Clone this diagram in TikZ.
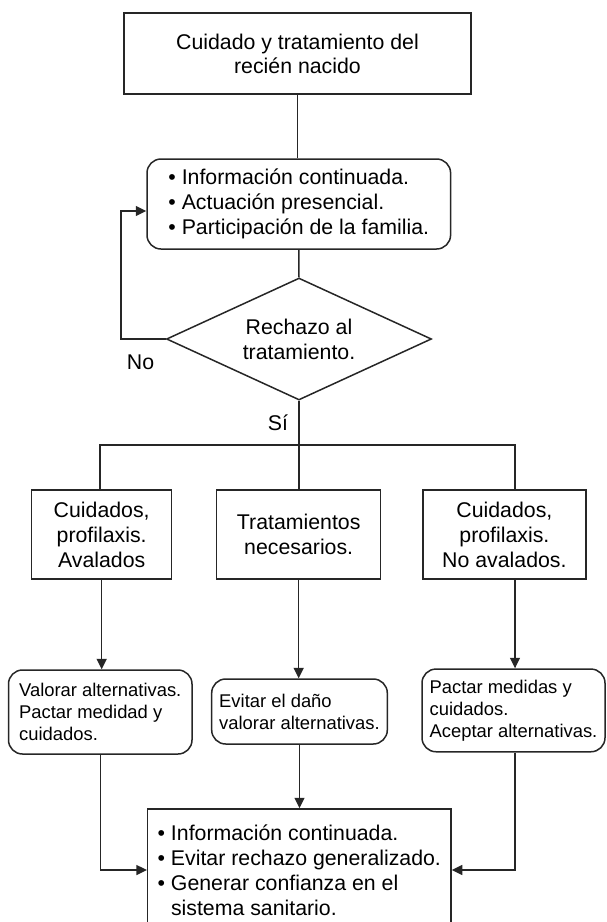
\documentclass[tikz,border=0pt]{standalone}
\usepackage{fontspec}
\setmainfont{Liberation Sans}
\usetikzlibrary{shapes.geometric,arrows.meta}
\begin{document}
\begin{tikzpicture}[x=1pt,y=-1pt,
  line/.style={draw=black!85, line width=1.5pt},
  arr/.style={line, -{Triangle[length=10.5pt,width=10pt]}},
  bigfont/.style={font=\fontsize{21.3pt}{25pt}\selectfont},
  smallfont/.style={font=\fontsize{18.4pt}{22pt}\selectfont},
  box/.style={draw=black!85, line width=1.5pt, rectangle, inner sep=0pt, align=center, bigfont},
  rbox/.style={box, rounded corners=14pt, align=left},
  lbl/.style={inner sep=0pt, bigfont}
]
\useasboundingbox (0,0) rectangle (606,922);

\node[box, minimum width=347pt, minimum height=81pt, font=\fontsize{21.3pt}{24pt}\selectfont] (top) at (297.5,53.5) {Cuidado y tratamiento del\\recién nacido};

\node[rbox, minimum width=303.6pt, minimum height=90pt] (r1) at (298.8,204) {• Información continuada.\\• Actuación presencial.\\• Participación de la familia.};

\node[draw=black!85, line width=1.5pt, diamond, aspect=2.17, minimum width=265pt, minimum height=122pt, inner sep=0pt, align=center, bigfont] (d) at (299,339) {Rechazo al\\tratamiento.};

\node[lbl] (no) at (140.6,362) {No};
\node[lbl] (si) at (278,423) {Sí};

\node[box, minimum width=140pt, minimum height=89pt] (A) at (101.7,534.5) {Cuidados,\\profilaxis.\\Avalados};
\node[box, minimum width=164pt, minimum height=89pt] (B) at (298.7,534.5) {Tratamientos\\necesarios.};
\node[box, minimum width=163.3pt, minimum height=89pt] (C) at (504.4,534.5) {Cuidados,\\profilaxis.\\No avalados.};

\node[rbox, smallfont, minimum width=183.5pt, minimum height=84pt] (D) at (100.25,712) {Valorar alternativas.\\Pactar medidad y\\cuidados.};
\node[rbox, smallfont, minimum width=175.6pt, minimum height=65pt] (E) at (299.5,711.5) {Evitar el daño\\valorar alternativas.};
\node[rbox, smallfont, minimum width=183pt, minimum height=82.7pt] (F) at (513.5,710.4) {Pactar medidas y\\cuidados.\\Aceptar alternativas.};

\node[box, align=left, minimum width=303.4pt, minimum height=122pt] (G) at (299.3,870) {• Información continuada.\\• Evitar rechazo generalizado.\\• Generar confianza en el\\\hphantom{• }sistema sanitario.};

% connectors
\draw[line] (top.south) -- (top.south |- r1.north);
\draw[line] (r1.south) -- (d.north);
\coordinate (lp) at (121,211);
\draw[arr] (d.west) -| (lp) -- (lp -| r1.west);

\coordinate (busL) at (100,445);
\coordinate (busR) at (515,445);
\draw[line] (d.south) -- (d.south |- B.north);
\draw[line] (busL |- A.north) -- (busL) -- (busR) -- (busR |- C.north);

\draw[arr] (A.south) -- (A.south |- D.north);
\draw[arr] (B.south) -- (B.south |- E.north);
\draw[arr] (busR |- C.south) -- (busR |- F.north);

\draw[arr] (D.south) |- (G.west);
\draw[arr] (E.south) -- (E.south |- G.north);
\draw[arr] (busR |- F.south) |- (G.east);
\end{tikzpicture}
\end{document}
